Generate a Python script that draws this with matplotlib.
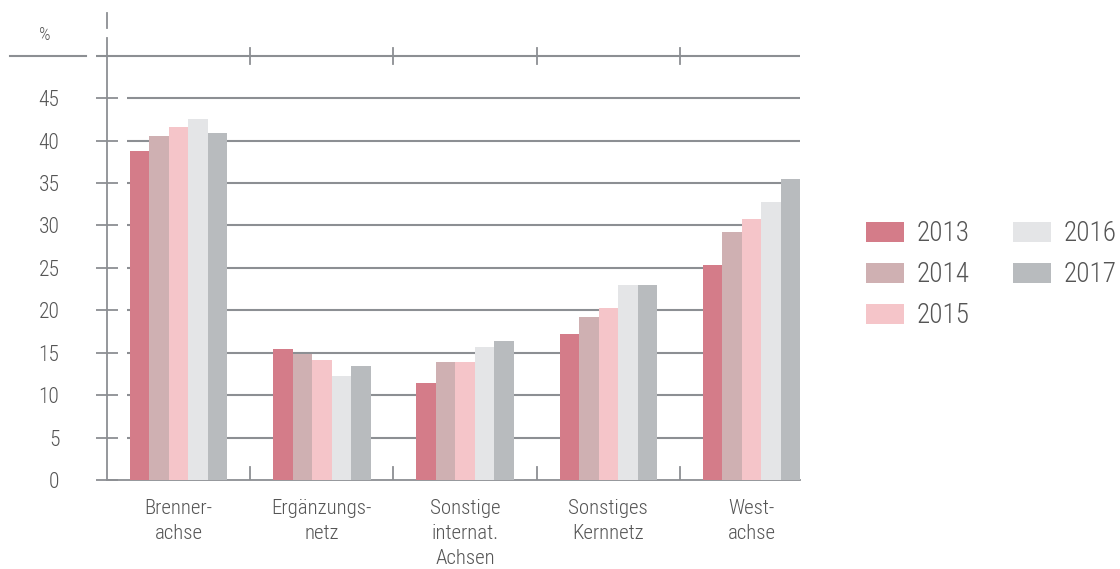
import matplotlib
matplotlib.use('Agg')
import matplotlib.pyplot as plt
import numpy as np

# data
categories = ['Brenner-\nachse', 'Ergänzungs-\nnetz', 'Sonstige\ninternat.\nAchsen',
              'Sonstiges\nKernnetz', 'West-\nachse']
years = ['2013', '2014', '2015', '2016', '2017']
v2013 = [38.8, 15.4, 11.4, 17.2, 25.4]
v2014 = [40.5, 14.9, 13.9, 19.2, 29.2]
v2015 = [41.6, 14.1, 13.9, 20.3, 30.8]
v2016 = [42.6, 12.3, 15.7, 23.0, 32.8]
v2017 = [40.9, 13.4, 16.4, 23.0, 35.5]
yticks = [0, 5, 10, 15, 20, 25, 30, 35, 40, 45]

colors = ['#d47c89', '#cfb0b2', '#f5c5c9', '#e4e5e7', '#b8bbbe']
grid_c = '#8c8f93'
text_c = '#555555'

plt.rcParams['font.family'] = ['Roboto Condensed', 'DejaVu Sans']
plt.rcParams['font.stretch'] = 'condensed'
plt.rcParams['font.weight'] = 'light'

fig = plt.figure(figsize=(11.2, 5.69), dpi=100)
ax = fig.add_axes([0.0955, 0.1564, 0.619, 0.7768])

x = np.arange(len(categories))
w = 0.136
series = [v2013, v2014, v2015, v2016, v2017]
for i, (vals, yr) in enumerate(zip(series, years)):
    ax.bar(x + (i - 2) * w, vals, width=w, color=colors[i], label=yr, zorder=3)

ax.set_xlim(-0.5, 4.34)
ax.set_ylim(0, 52.1)

# gridlines (start a bit right of the axis)
ax.hlines(yticks[1:], -0.36, 4.34, color=grid_c, lw=1.5, zorder=1)
# the top line at 50 without label
ax.hlines(50, -0.5 - 11 / 143, 4.34, color=grid_c, lw=1.5, zorder=1, clip_on=False)
ax.plot([-0.14, -0.0303], [50, 50], color=grid_c, lw=1.5,
        transform=ax.get_yaxis_transform(), clip_on=False)
ax.text(-0.09, 51.4, '%', transform=ax.get_yaxis_transform(), ha='center', va='bottom',
        fontsize=13, color=text_c)
# category separators
for b in [0.5, 1.5, 2.5, 3.5]:
    ax.plot([b, b], [49.05, 50.95], color=grid_c, lw=1.3, clip_on=False)
    ax.plot([b, b], [0, 1.5], color=grid_c, lw=1.3)
# short piece of axis above the top
ax.plot([0, 0], [1.0226, 1.0566], color=grid_c, lw=1.3,
        transform=ax.transAxes, clip_on=False)

for s in ['top', 'right']:
    ax.spines[s].set_visible(False)
for s in ['left', 'bottom']:
    ax.spines[s].set_color(grid_c)
    ax.spines[s].set_linewidth(1.3)

ax.set_yticks(yticks)
ax.tick_params(axis='y', direction='inout', length=16.5, width=1.3, color=grid_c,
               labelsize=15.5, labelcolor=text_c, pad=26)
ax.set_xticks(x)
ax.set_xticklabels(categories, fontsize=15, color=text_c, linespacing=1.38, va='top')
ax.tick_params(axis='x', length=0, pad=14)

leg = fig.legend(loc='upper left', bbox_to_anchor=(0.773, 0.613), ncol=2, frameon=False,
                 fontsize=19.5, handlelength=1.4, handleheight=0.74, handletextpad=0.48,
                 columnspacing=1.6, labelspacing=0.52, labelcolor=text_c,
                 borderaxespad=0, borderpad=0)

fig.savefig('out.png', dpi=100)
